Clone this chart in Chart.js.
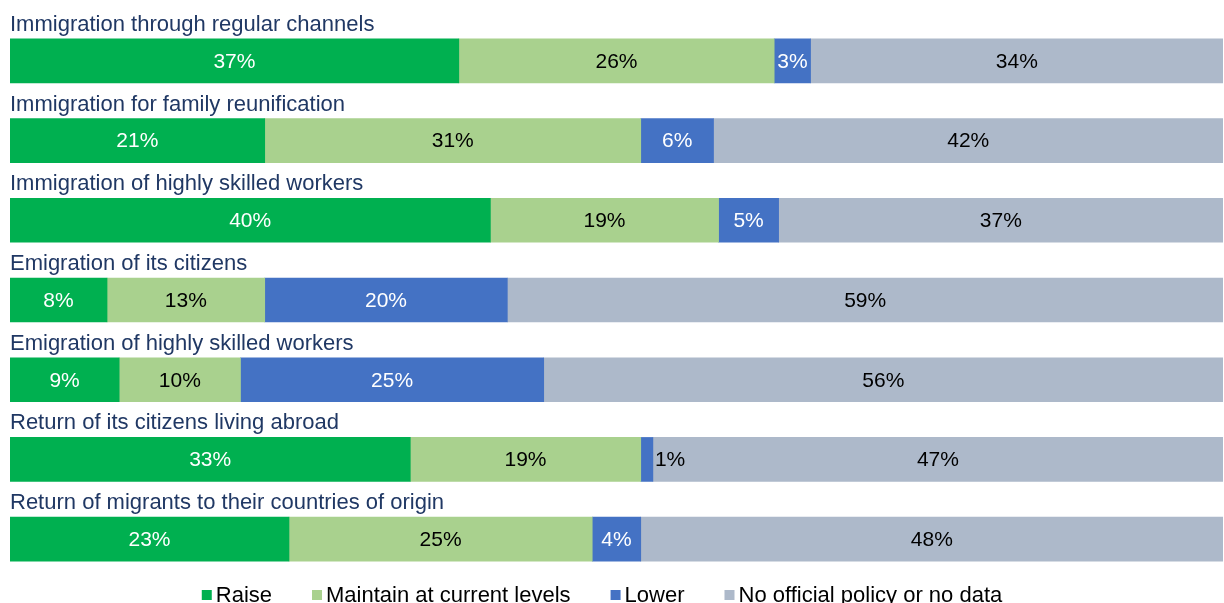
<!DOCTYPE html>
<html>
<head>
<meta charset="utf-8">
<script src="https://cdn.jsdelivr.net/npm/chart.js@4.4.1/dist/chart.umd.min.js"></script>
<style>
  html, body { margin: 0; padding: 0; background: #fff; overflow: hidden; }
  #wrap { width: 1224px; height: 603px; position: relative; }
</style>
</head>
<body>
<div id="wrap"><canvas id="policyChart"></canvas></div>
<script>
// categories (top to bottom)
const categories = [
    'Immigration through regular channels',
    'Immigration for family reunification',
    'Immigration of highly skilled workers',
    'Emigration of its citizens',
    'Emigration of highly skilled workers',
    'Return of its citizens living abroad',
    'Return of migrants to their countries of origin'
];

// printed percentages per policy
const raise    = [37, 21, 40,  8,  9, 33, 23];
const maintain = [26, 31, 19, 13, 10, 19, 25];
const lower    = [ 3,  6,  5, 20, 25,  1,  4];
const noPolicy = [34, 42, 37, 59, 56, 47, 48];

const seriesNames = ['Raise', 'Maintain at current levels', 'Lower', 'No official policy or no data'];
const seriesColors = ['#00B050', '#A9D18E', '#4472C4', '#ADB9CA'];
const labelColors = ['#ffffff', '#000000', '#ffffff', '#000000'];

const FONT = 'Liberation Sans, Arial, sans-serif';

// rows are drawn as shares of their own total (one row adds up to 101)
const rowTotals = categories.map((c, i) => raise[i] + maintain[i] + lower[i] + noPolicy[i]);
const allSeries = [raise, maintain, lower, noPolicy];

const datasets = allSeries.map((vals, k) => ({
    label: seriesNames[k],
    data: vals.map((v, i) => v / rowTotals[i] * 100),
    printed: vals,
    backgroundColor: seriesColors[k],
    borderWidth: 0,
    barThickness: 44
}));

// percentage labels inside segments + row titles above bars
const labelPlugin = {
    id: 'segLabels',
    afterDatasetsDraw(chart) {
        const ctx = chart.ctx;
        ctx.save();
        ctx.font = '21px ' + FONT;
        ctx.textBaseline = 'middle';
        chart.data.datasets.forEach((ds, k) => {
            const meta = chart.getDatasetMeta(k);
            meta.data.forEach((bar, i) => {
                const txt = ds.printed[i] + '%';
                const left = Math.min(bar.base, bar.x), right = Math.max(bar.base, bar.x);
                const w = ctx.measureText(txt).width;
                if (w > right - left + 4) {
                    // too narrow: put it just after the segment, over the next colour
                    ctx.textAlign = 'left';
                    ctx.fillStyle = labelColors[k + 1] || '#000';
                    ctx.fillText(txt, right + 2, bar.y + 1);
                } else {
                    ctx.textAlign = 'center';
                    ctx.fillStyle = labelColors[k];
                    ctx.fillText(txt, (left + right) / 2, bar.y + 1);
                }
            });
        });
        // row titles
        const meta0 = chart.getDatasetMeta(0);
        ctx.font = '22px ' + FONT;
        ctx.textAlign = 'left';
        ctx.fillStyle = '#203864';
        meta0.data.forEach((bar, i) => {
            ctx.fillText(categories[i], 10, bar.y - 36);
        });
        ctx.restore();
    },
    afterDraw(chart) {
        // legend along the bottom
        const ctx = chart.ctx;
        ctx.save();
        ctx.font = '22px ' + FONT;
        ctx.textBaseline = 'middle';
        ctx.textAlign = 'left';
        const box = 10, gapBox = 4, gapItem = 40;
        const widths = seriesNames.map(n => box + gapBox + ctx.measureText(n).width);
        const total = widths.reduce((a, b) => a + b, 0) + gapItem * (seriesNames.length - 1);
        let x = 602 - total / 2;
        const y = 595;
        seriesNames.forEach((n, k) => {
            ctx.fillStyle = seriesColors[k];
            ctx.fillRect(x, y - box / 2, box, box);
            ctx.fillStyle = '#000';
            ctx.fillText(n, x + box + gapBox, y + 1);
            x += widths[k] + gapItem;
        });
        ctx.restore();
    }
};

new Chart(document.getElementById('policyChart').getContext('2d'), {
    type: 'bar',
    data: { labels: categories, datasets: datasets },
    options: {
        indexAxis: 'y',
        responsive: true,
        maintainAspectRatio: false,
        animation: false,
        layout: { padding: { left: 10, right: 1, top: 21, bottom: 24 } },
        scales: {
            x: { stacked: true, min: 0, max: 100, display: false },
            y: { stacked: true, display: false }
        },
        plugins: {
            legend: { display: false },
            tooltip: { enabled: false }
        }
    },
    plugins: [labelPlugin]
});
</script>
</body>
</html>
